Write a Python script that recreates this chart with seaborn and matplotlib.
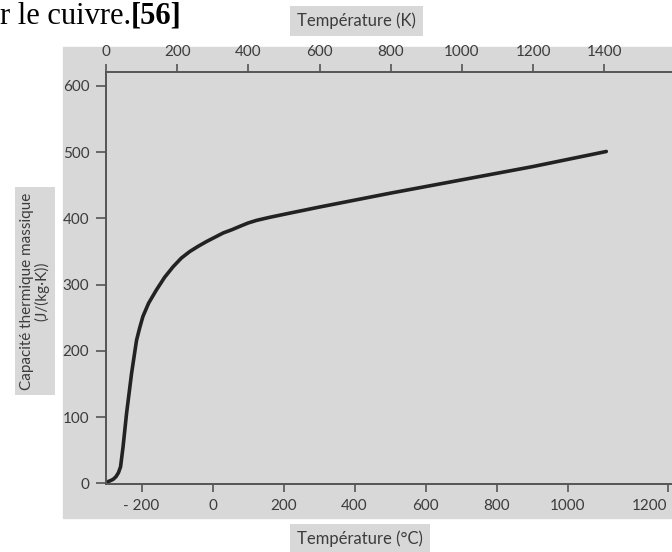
import matplotlib
matplotlib.use("Agg")
import matplotlib.pyplot as plt
from matplotlib.patches import Rectangle
import seaborn as sns

# Copper specific heat
temp_c = [-298, -290, -280, -272, -265, -259, -252, -242, -228, -214, -205, -196,
          -180, -158, -135, -111, -88, -64, -40, -17, 30, 55, 77, 100, 124, 160,
          218, 250, 300, 400, 500, 600, 700, 800, 900, 1000, 1109]
cp = [2, 3.5, 6, 10, 16, 25, 55, 106, 166, 216, 235, 252,
      272, 292, 311, 327, 340, 350, 358, 365, 378, 383, 388, 393, 397, 401.5,
      408, 411.5, 417, 427.5, 438, 448, 458, 468, 478, 489, 501]

y_ticks = [0, 100, 200, 300, 400, 500, 600]
# bottom scale: the scan puts its last label (1200) past the regular spacing
c_ticks = [-200, 0, 200, 400, 600, 800, 1000, 1282]
c_labels = ["- 200", "0", "200", "400", "600", "800", "1000", "1200"]
k_ticks = [0, 200, 400, 600, 800, 1000, 1200, 1400]

gray = "#d8d8d8"
ink = "#3c3c3c"
spine_col = "#555555"

sns.set_style("ticks")
plt.rcParams["font.family"] = ["Lato", "DejaVu Sans"]

W, H = 672, 552
fig = plt.figure(figsize=(W / 100, H / 100), dpi=100)

# gray panel behind the chart
fig.patches.append(Rectangle((63 / W, 1 - 518 / H), (W - 63) / W, (518 - 47) / H,
                             transform=fig.transFigure, color=gray, zorder=-10))

ax = fig.add_axes([106 / W, 1 - 484 / H, (W - 106) / W, (484 - 72) / H])
ax.patch.set_alpha(0)

sns.lineplot(x=temp_c, y=cp, ax=ax, color="#222222", linewidth=2.6)

ax.set_xlim(-300, 1294)
ax.set_ylim(-1, 621)
ax.set_yticks(y_ticks)
ax.set_xticks(c_ticks)
ax.set_xticklabels(c_labels)
ax.get_xticklabels()[-1].set_horizontalalignment("right")
ax.set_xlabel("")
ax.set_ylabel("")
ax.tick_params(axis="y", direction="out", length=7, width=1.2, color=spine_col,
               labelsize=11, labelcolor=ink, pad=5)
ax.tick_params(axis="x", direction="out", length=6, width=1.2, color=spine_col,
               labelsize=11, labelcolor=ink, pad=5)
for side in ["top", "right"]:
    ax.spines[side].set_visible(False)
for side in ["left", "bottom"]:
    ax.spines[side].set_color(spine_col)
    ax.spines[side].set_linewidth(1.4)

ax2 = ax.twiny()
ax2.patch.set_alpha(0)
ax2.set_xlim(0, 1590)
ax2.set_xticks(k_ticks)
ax2.tick_params(axis="x", direction="out", length=6, width=1.2, color=spine_col,
                labelsize=11, labelcolor=ink, pad=3)
for side in ["left", "right", "bottom"]:
    ax2.spines[side].set_visible(False)
ax2.spines["top"].set_color(spine_col)
ax2.spines["top"].set_linewidth(1.4)

box = dict(boxstyle="square,pad=0.4", facecolor=gray, edgecolor="none")
fig.text(297 / W, 1 - 21 / H, "Température (K)", ha="left", va="center",
         fontsize=12, color=ink, bbox=box)
fig.text(297 / W, 1 - 539 / H, "Température (°C)", ha="left", va="center",
         fontsize=12, color=ink, bbox=box)
fig.text(35 / W, 1 - 291 / H, "Capacité thermique massique\n(J/(kg·K))",
         rotation=90, ha="center", va="center", ma="center",
         fontsize=11, color=ink, linespacing=1.05,
         bbox=dict(boxstyle="square,pad=0.35", facecolor=gray, edgecolor="none"))

cap = fig.text(0, 1 - 24 / H, "r le cuivre.", ha="left", va="baseline",
               fontsize=22, family="Liberation Serif", color="black")
ax.annotate("[56]", xy=(1, 0), xycoords=cap, va="bottom", ha="left",
            fontsize=22, family="Liberation Serif", weight="bold", color="black",
            annotation_clip=False)

fig.savefig("out.png", dpi=100)
